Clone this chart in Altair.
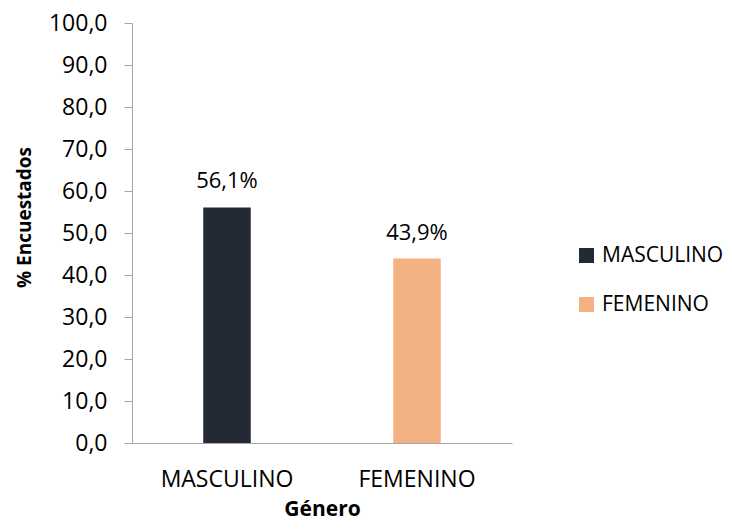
import altair as alt
import pandas as pd

categories = ["MASCULINO", "FEMENINO"]
values = [56.1, 43.9]
colors = ["#232a35", "#f4b183"]

df = pd.DataFrame({"genero": categories, "pct": values})

FONT = "Open Sans"

base = alt.Chart(df).encode(
    x=alt.X("genero:N", sort=categories, title="Género",
            scale=alt.Scale(paddingInner=0.75, paddingOuter=0.375),
            axis=alt.Axis(labelAngle=0, labelFontSize=23, labelFont=FONT, labelColor="#000",
                          titleFontSize=21, titleFont=FONT, titleFontWeight="bold", titleColor="#000",
                          ticks=False, domainColor="#a6a6a6", labelPadding=25, titlePadding=7)),
)

bars = base.mark_bar().encode(
    y=alt.Y("pct:Q", title="% Encuestados",
            scale=alt.Scale(domain=[0, 100]),
            axis=alt.Axis(values=list(range(0, 101, 10)),
                          labelExpr="replace(format(datum.value, '.1f'), '.', ',')",
                          labelFontSize=23, labelFont=FONT, labelColor="#000",
                          titleFontSize=19, titleFont=FONT, titleFontWeight="bold", titleColor="#000",
                          titleY=194,
                          grid=False, tickSize=8, tickColor="#a6a6a6", domainColor="#a6a6a6",
                          labelPadding=17, titlePadding=14)),
    color=alt.Color("genero:N", sort=categories,
                    scale=alt.Scale(domain=categories, range=colors),
                    legend=alt.Legend(title=None, orient="none", legendX=444, legendY=222,
                                      symbolType="square", symbolSize=225, symbolStrokeWidth=0,
                                      labelFontSize=21, labelFont=FONT, labelColor="#000",
                                      rowPadding=27, labelOffset=5)),
)

labels = base.mark_text(dy=-14, baseline="bottom", fontSize=22, font=FONT, color="#000").encode(
    y="pct:Q",
    text=alt.Text("label:N"),
).transform_calculate(label="replace(format(datum.pct, '.1f'), '.', ',') + '%'")

chart = (bars + labels).properties(
    width=380, height=420,
    padding={"left": 7, "top": 4, "right": 0, "bottom": 0},
).configure_view(stroke=None)

chart.save("out.html", embed_options={"renderer": "svg", "actions": False})
